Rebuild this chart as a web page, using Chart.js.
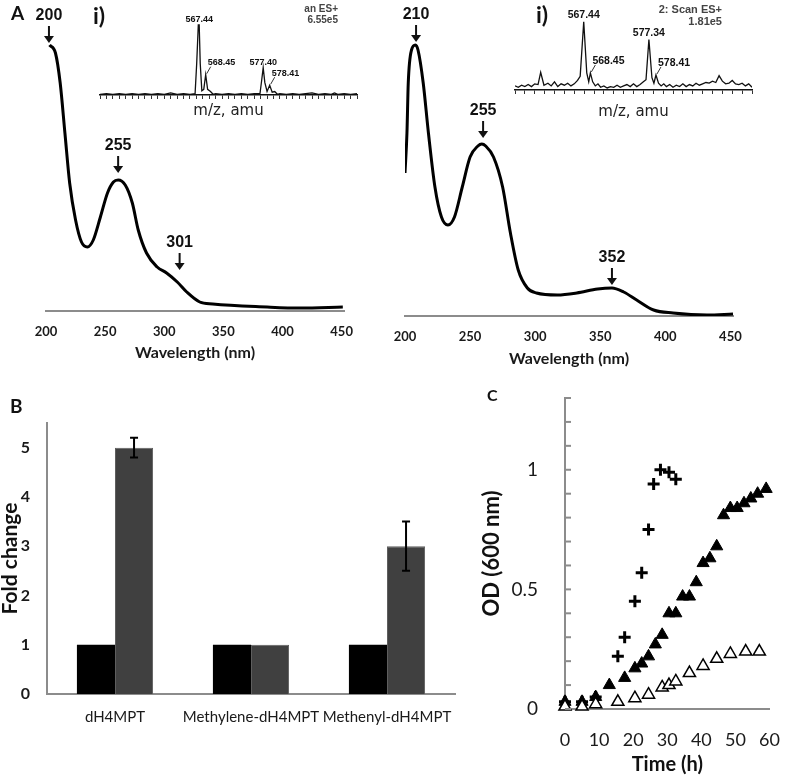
<!DOCTYPE html>
<html>
<head>
<meta charset="utf-8">
<script src="https://cdn.jsdelivr.net/npm/chart.js@4.4.1/dist/chart.umd.min.js"></script>
<style>
  body { margin: 0; background: #fff; }
  #fig { position: relative; width: 800px; height: 778px; overflow: hidden; }
  canvas { position: absolute; }
  .lbl { position: absolute; font-family: Lato, sans-serif; font-weight: bold; color: #111; line-height: 1; }
  .hdr { position: absolute; font-family: "Liberation Sans", Arial, sans-serif; font-weight: bold; color: #444; text-align: right; line-height: 1.05; }
</style>
</head>
<body>
<div id="fig">
  <canvas id="specLeft" width="400" height="370" style="left:0;top:0"></canvas>
  <canvas id="specRight" width="420" height="375" style="left:380px;top:0"></canvas>
  <canvas id="msLeft" width="270" height="120" style="left:90px;top:0"></canvas>
  <canvas id="msRight" width="250" height="121" style="left:505px;top:0"></canvas>
  <canvas id="barB" width="470" height="393" style="left:0;top:385px"></canvas>
  <canvas id="growthC" width="330" height="398" style="left:470px;top:380px"></canvas>

  <div class="lbl" style="left:11px;top:3px;font-size:19px">A</div>
  <div class="lbl" style="left:93px;top:4px;font-size:23px">i)</div>
  <div class="lbl" style="left:536px;top:3px;font-size:23px">i)</div>
  <div class="hdr" style="left:268px;top:4px;width:70px;font-size:10px">an ES+<br>6.55e5</div>
  <div class="hdr" style="left:622px;top:4px;width:100px;font-size:11px">2: Scan ES+<br>1.81e5</div>
  <div class="lbl" style="left:10px;top:396px;font-size:19px">B</div>
  <div class="lbl" style="left:487px;top:387px;font-size:16px">C</div>
</div>

<script>
// ---- A: UV-vis spectra (absorbance, arbitrary units)
const wlLeft = [203, 208, 212, 216, 220, 225, 230, 235, 240, 246, 252, 257, 261, 267, 273, 278, 285, 294, 302, 311, 319, 330, 341, 387, 415, 451];
const absLeft = [2.66, 2.58, 2.28, 1.78, 1.28, 0.91, 0.69, 0.64, 0.71, 0.94, 1.18, 1.29, 1.31, 1.26, 1.08, 0.81, 0.58, 0.44, 0.38, 0.29, 0.19, 0.09, 0.07, 0.04, 0.03, 0.04];
const wlRight = [200, 201.5, 202.5, 205, 208, 210, 214, 218, 223, 228, 233, 238, 244, 250, 256, 259, 262, 268, 275, 281, 287, 294, 301, 317, 332, 348, 359, 368, 378, 391, 406, 432, 452];
const absRight = [1.43, 1.83, 2.33, 2.66, 2.71, 2.66, 2.33, 1.83, 1.29, 0.99, 0.91, 0.99, 1.29, 1.59, 1.70, 1.72, 1.70, 1.59, 1.29, 0.83, 0.46, 0.28, 0.23, 0.21, 0.23, 0.27, 0.28, 0.24, 0.16, 0.06, 0.03, 0.01, 0.02];
const wlTicks = [200, 250, 300, 350, 400, 450];

// peak markers (label, wavelength, absorbance at arrow tip)
const peakLeftText = ['200', '255', '301'];
const peakLeftWl = [202.5, 261, 313];
const peakLeftAbs = [2.68, 1.38, 0.41];
const peakRightText = ['210', '255', '352'];
const peakRightWl = [208.5, 260, 359];
const peakRightAbs = [2.74, 1.78, 0.31];

// ---- A insets: mass spectra (m/z, relative intensity %)
const mzLeft = [552, 553, 554, 555, 556, 557, 558, 559, 560, 561, 562, 563, 564, 565, 566, 566.8, 567.05, 567.3, 567.44, 567.6, 567.85, 568.15, 568.45, 568.75, 569.2, 569.6, 570, 571, 572, 573, 574, 575, 576, 576.9, 577.15, 577.4, 577.65, 578.0, 578.41, 578.8, 579.2, 579.6, 580, 581, 582, 583, 584, 585, 586, 587, 588, 588.5, 589, 590, 591, 592];
const intLeft = [1, 2, 1, 2, 1, 2, 1, 2, 1, 2, 1, 3, 1, 2, 1, 2, 45, 100, 100, 45, 6, 8, 29, 8, 5, 1, 2, 1, 2, 1, 2, 1, 2, 2, 20, 39, 18, 5, 14, 4, 5, 1, 2, 1, 2, 1, 2, 3, 1, 2, 1, 3, 1, 2, 1, 2];
const mzRight = [557, 557.5, 558, 558.5, 559, 559.5, 560, 560.5, 560.9, 561.4, 562, 562.5, 563, 563.5, 564, 564.5, 565, 565.5, 566, 566.5, 566.9, 567.44, 567.9, 568.2, 568.45, 568.8, 569.2, 569.6, 570, 570.5, 571, 571.5, 572, 572.5, 573, 573.5, 574, 574.5, 575, 575.5, 576, 576.5, 576.9, 577.34, 577.8, 578.1, 578.41, 578.8, 579.2, 579.6, 580, 580.5, 581, 581.5, 582, 582.5, 583, 583.5, 584, 584.5, 585, 585.5, 586, 586.5, 587, 587.5, 588, 588.5, 589, 589.5, 590, 590.5, 591, 591.5, 592, 592.5, 593];
const intRight = [6, 4, 7, 5, 8, 5, 9, 8, 26, 7, 10, 6, 12, 5, 9, 7, 10, 6, 9, 14, 20, 100, 25, 12, 25, 12, 6, 9, 4, 6, 3, 5, 4, 7, 4, 6, 8, 5, 9, 5, 8, 12, 15, 74, 18, 10, 22, 10, 6, 9, 5, 8, 4, 7, 5, 9, 5, 8, 6, 10, 7, 9, 11, 10, 13, 11, 21, 13, 9, 10, 14, 9, 8, 10, 6, 9, 4];
const msLeftLabels = ['567.44', '568.45', '577.40', '578.41'];
const msLeftMz = [567.44, 568.45, 577.40, 578.41];
const msLeftInt = [100, 29, 39, 14];
const msRightLabels = ['567.44', '568.45', '577.34', '578.41'];
const msRightMz = [567.44, 568.45, 577.34, 578.41];
const msRightInt = [100, 25, 74, 22];

// ---- B: fold change
const compounds = ['dH4MPT', 'Methylene-dH4MPT', 'Methenyl-dH4MPT'];
const foldControl = [1, 1, 1];
const foldTreated = [5, 1, 3];
const errTreated = [0.2, 0, 0.5];

// ---- C: growth curves OD600 vs time (h)
const tPlus = [0, 5, 9, 15.5, 17.5, 20.5, 22.5, 24.5, 26, 28, 30.5, 32.5];
const odPlus = [0.03, 0.03, 0.05, 0.22, 0.30, 0.45, 0.57, 0.75, 0.94, 1.00, 0.99, 0.96];
const tFilled = [0, 5, 9, 13, 17.5, 20.5, 22.5, 24.5, 26.5, 28.5, 30.5, 32.5, 34.5, 36.5, 38.5, 40.5, 42.5, 44.5, 46.5, 48.5, 50.5, 52.5, 54.5, 56.5, 59];
const odFilled = [0.03, 0.03, 0.05, 0.10, 0.13, 0.17, 0.19, 0.22, 0.27, 0.31, 0.40, 0.40, 0.47, 0.47, 0.53, 0.61, 0.63, 0.68, 0.81, 0.84, 0.84, 0.86, 0.88, 0.90, 0.92];
const tOpen = [0, 5, 9, 15.5, 20.5, 24.5, 28.5, 30.5, 32.5, 36.5, 40.5, 44.5, 48.5, 53, 57];
const odOpen = [0.01, 0.01, 0.02, 0.03, 0.045, 0.06, 0.09, 0.10, 0.115, 0.15, 0.18, 0.21, 0.23, 0.24, 0.24];

Chart.defaults.font.family = 'Lato, sans-serif';
Chart.defaults.color = '#222';
Chart.defaults.animation = false;
Chart.defaults.responsive = false;
Chart.defaults.devicePixelRatio = 1;
Chart.defaults.plugins.legend.display = false;
Chart.defaults.plugins.tooltip.enabled = false;

const pts = (xs, ys) => xs.map((v, i) => ({ x: v, y: ys[i] }));
// pin an axis box to a fixed size so the plot area lands where the figure has it
const fixHeight = h => s => { s.height = h; };
const fixWidth = w => s => { s.width = w; s.paddingTop = 0; s.paddingBottom = 0; };

// arrows with peak labels over the spectra
function peakArrows(texts, wls, vals) {
  return {
    id: 'peakArrows',
    afterDatasetsDraw(chart) {
      const { ctx, scales: { x, y } } = chart;
      ctx.save();
      ctx.fillStyle = '#111';
      ctx.strokeStyle = '#111';
      ctx.lineWidth = 2;
      ctx.font = 'bold 16px "Liberation Sans", Arial, sans-serif';
      ctx.textAlign = 'center';
      ctx.textBaseline = 'middle';
      texts.forEach((t, i) => {
        const px = x.getPixelForValue(wls[i]);
        const py = y.getPixelForValue(vals[i]);
        ctx.beginPath();
        ctx.moveTo(px, py - 17);
        ctx.lineTo(px, py - 6);
        ctx.stroke();
        ctx.beginPath();
        ctx.moveTo(px - 5, py - 7);
        ctx.lineTo(px + 5, py - 7);
        ctx.lineTo(px, py);
        ctx.closePath();
        ctx.fill();
        ctx.fillText(t, px, py - 27);
      });
      ctx.restore();
    }
  };
}

function spectrum(id, wl, ab, arrows, padLeft, padRight, padTop, titleBottom) {
  return new Chart(document.getElementById(id), {
    type: 'line',
    data: { datasets: [{ data: pts(wl, ab), borderColor: '#000', borderWidth: 3, pointRadius: 0, cubicInterpolationMode: 'monotone', fill: false }] },
    options: {
      layout: { padding: { left: padLeft, right: padRight, top: padTop, bottom: 0 } },
      scales: {
        x: {
          type: 'linear', min: 200, max: 452,
          afterBuildTicks: s => { s.ticks = wlTicks.map(v => ({ value: v })); },
          afterFit: fixHeight(59),
          grid: { display: false, drawTicks: false },
          border: { color: '#8c8c8c', width: 2 },
          ticks: { padding: 13, font: { size: 13, weight: 'bold' }, color: '#1a1a1a' },
          title: { display: true, text: 'Wavelength (nm)', font: { size: 16, weight: 'bold' }, color: '#1a1a1a', padding: { top: 0, bottom: titleBottom } }
        },
        y: { display: false, min: 0, max: 3.0 }
      }
    },
    plugins: [arrows]
  });
}

spectrum('specLeft', wlLeft, absLeft, peakArrows(peakLeftText, peakLeftWl, peakLeftAbs), 46, 56, 11, 8);
spectrum('specRight', wlRight, absRight, peakArrows(peakRightText, peakRightWl, peakRightAbs), 25, 67, 16, 7);

// mass spectrum insets
function peakLabels(texts, mzs, ints, size) {
  return {
    id: 'peakLabels',
    afterDatasetsDraw(chart) {
      const { ctx, scales: { x, y } } = chart;
      ctx.save();
      ctx.fillStyle = '#111';
      ctx.strokeStyle = '#333';
      ctx.lineWidth = 1;
      ctx.font = 'bold ' + size + 'px "Liberation Sans", Arial, sans-serif';
      texts.forEach((t, i) => {
        const px = x.getPixelForValue(mzs[i]);
        const py = y.getPixelForValue(ints[i]);
        if (i % 2 === 0) {
          ctx.textAlign = 'center';
          ctx.textBaseline = 'bottom';
          ctx.fillText(t, px, py - 1);
        } else {
          ctx.beginPath();
          ctx.moveTo(px + 1, py - 1);
          ctx.lineTo(px + 5, py - 8);
          ctx.stroke();
          ctx.textAlign = 'left';
          ctx.textBaseline = 'middle';
          ctx.fillText(t, px + 2, py - 12);
        }
      });
      ctx.restore();
    }
  };
}

function massSpec(id, mz, it, min, max, step, yMax, titlePad, labels) {
  return new Chart(document.getElementById(id), {
    type: 'line',
    data: { datasets: [{ data: pts(mz, it), borderColor: '#111', borderWidth: 1.3, pointRadius: 0, tension: 0 }] },
    options: {
      layout: { padding: { left: 10, right: 3, top: 4, bottom: 0 } },
      scales: {
        x: {
          type: 'linear', min: min, max: max,
          grid: { drawOnChartArea: false, tickLength: 4, color: '#333', lineWidth: 1 },
          border: { color: '#111', width: 1.5 },
          ticks: { display: false, stepSize: step, autoSkip: false },
          title: { display: true, text: 'm/z, amu', font: { family: '"DejaVu Sans", Verdana, sans-serif', size: 15 }, color: '#222', padding: { top: titlePad, bottom: 0 } }
        },
        y: { display: false, min: 0, max: yMax }
      }
    },
    plugins: [labels]
  });
}

massSpec('msLeft', mzLeft, intLeft, 552, 592, 1, 130, 3, peakLabels(msLeftLabels, msLeftMz, msLeftInt, 9));
massSpec('msRight', mzRight, intRight, 557, 593, 1.5, 126, 9, peakLabels(msRightLabels, msRightMz, msRightInt, 10.5));

// B: bars with error bars on treated series
const errorBars = {
  id: 'errorBars',
  afterDatasetsDraw(chart) {
    const { ctx, scales: { y } } = chart;
    const meta = chart.getDatasetMeta(1);
    ctx.save();
    ctx.strokeStyle = '#000';
    ctx.lineWidth = 2;
    meta.data.forEach((bar, i) => {
      if (!errTreated[i]) return;
      const top = y.getPixelForValue(foldTreated[i] + errTreated[i]);
      const bot = y.getPixelForValue(foldTreated[i] - errTreated[i]);
      ctx.beginPath();
      ctx.moveTo(bar.x, top); ctx.lineTo(bar.x, bot);
      ctx.moveTo(bar.x - 4, top); ctx.lineTo(bar.x + 4, top);
      ctx.moveTo(bar.x - 4, bot); ctx.lineTo(bar.x + 4, bot);
      ctx.stroke();
    });
    ctx.restore();
  }
};

new Chart(document.getElementById('barB'), {
  type: 'bar',
  data: {
    labels: compounds,
    datasets: [
      { data: foldControl, backgroundColor: '#000', borderWidth: 0, categoryPercentage: 0.56, barPercentage: 1 },
      { data: foldTreated, backgroundColor: '#404040', borderColor: '#5e5e5e', borderWidth: 1, categoryPercentage: 0.56, barPercentage: 1 }
    ]
  },
  options: {
    layout: { padding: { left: 0, right: 15, top: 38, bottom: 44 } },
    scales: {
      x: {
        afterFit: fixHeight(40),
        grid: { display: false, drawTicks: false },
        border: { color: '#8c8c8c', width: 2 },
        ticks: { padding: 14, maxRotation: 0, autoSkip: false, font: { size: 15 }, color: '#1a1a1a' }
      },
      y: {
        min: 0, max: 5.5,
        afterFit: fixWidth(47),
        grid: { display: false, drawTicks: false },
        border: { color: '#8c8c8c', width: 2 },
        ticks: { stepSize: 1, includeBounds: false, padding: 17, font: { size: 16, weight: 'bold' }, color: '#1a1a1a' },
        title: { display: true, text: 'Fold change', font: { size: 21, weight: 'bold', lineHeight: 1 }, color: '#111', padding: { top: 0, bottom: 0 } }
      }
    }
  },
  plugins: [errorBars]
});

// C: growth curves, minor ticks drawn inside the y axis
const innerTicks = {
  id: 'innerTicks',
  afterDraw(chart) {
    const { ctx, scales: { y }, chartArea } = chart;
    ctx.save();
    ctx.strokeStyle = '#8c8c8c';
    ctx.lineWidth = 2;
    y.ticks.forEach(t => {
      const py = y.getPixelForValue(t.value);
      ctx.beginPath();
      ctx.moveTo(chartArea.left, py);
      ctx.lineTo(chartArea.left + 6, py);
      ctx.stroke();
    });
    ctx.restore();
  }
};

new Chart(document.getElementById('growthC'), {
  type: 'scatter',
  data: {
    datasets: [
      { data: pts(tOpen, odOpen), pointStyle: 'triangle', pointRadius: 7, backgroundColor: '#fff', borderColor: '#000', borderWidth: 1.5, clip: false },
      { data: pts(tFilled, odFilled), pointStyle: 'triangle', pointRadius: 7, backgroundColor: '#000', borderColor: '#000', borderWidth: 1, clip: false },
      { data: pts(tPlus, odPlus), pointStyle: 'cross', pointRadius: 6, borderColor: '#000', borderWidth: 3, clip: false }
    ]
  },
  options: {
    layout: { padding: { left: 0, right: 12, top: 18, bottom: 0 } },
    scales: {
      x: {
        min: 0, max: 60,
        afterFit: fixHeight(69),
        grid: { display: false, drawTicks: false },
        border: { color: '#8c8c8c', width: 2 },
        ticks: { stepSize: 10, padding: 20, font: { size: 18 }, color: '#1a1a1a' },
        title: { display: true, text: 'Time (h)', font: { size: 20, weight: 'bold' }, color: '#111', padding: { top: 0, bottom: 1 } }
      },
      y: {
        min: 0, max: 1.3,
        afterFit: fixWidth(95),
        grid: { display: false, drawTicks: false },
        border: { color: '#8c8c8c', width: 2 },
        ticks: {
          stepSize: 0.1, autoSkip: false, padding: 27, font: { size: 19 }, color: '#1a1a1a',
          callback: v => (Math.abs(v) < 1e-6 ? '0' : Math.abs(v - 0.5) < 1e-6 ? '0.5' : Math.abs(v - 1) < 1e-6 ? '1' : '')
        },
        title: { display: true, text: 'OD (600 nm)', font: { size: 22, weight: 'bold' }, color: '#111', padding: { top: 9, bottom: 0 } }
      }
    }
  },
  plugins: [innerTicks]
});
</script>
</body>
</html>
